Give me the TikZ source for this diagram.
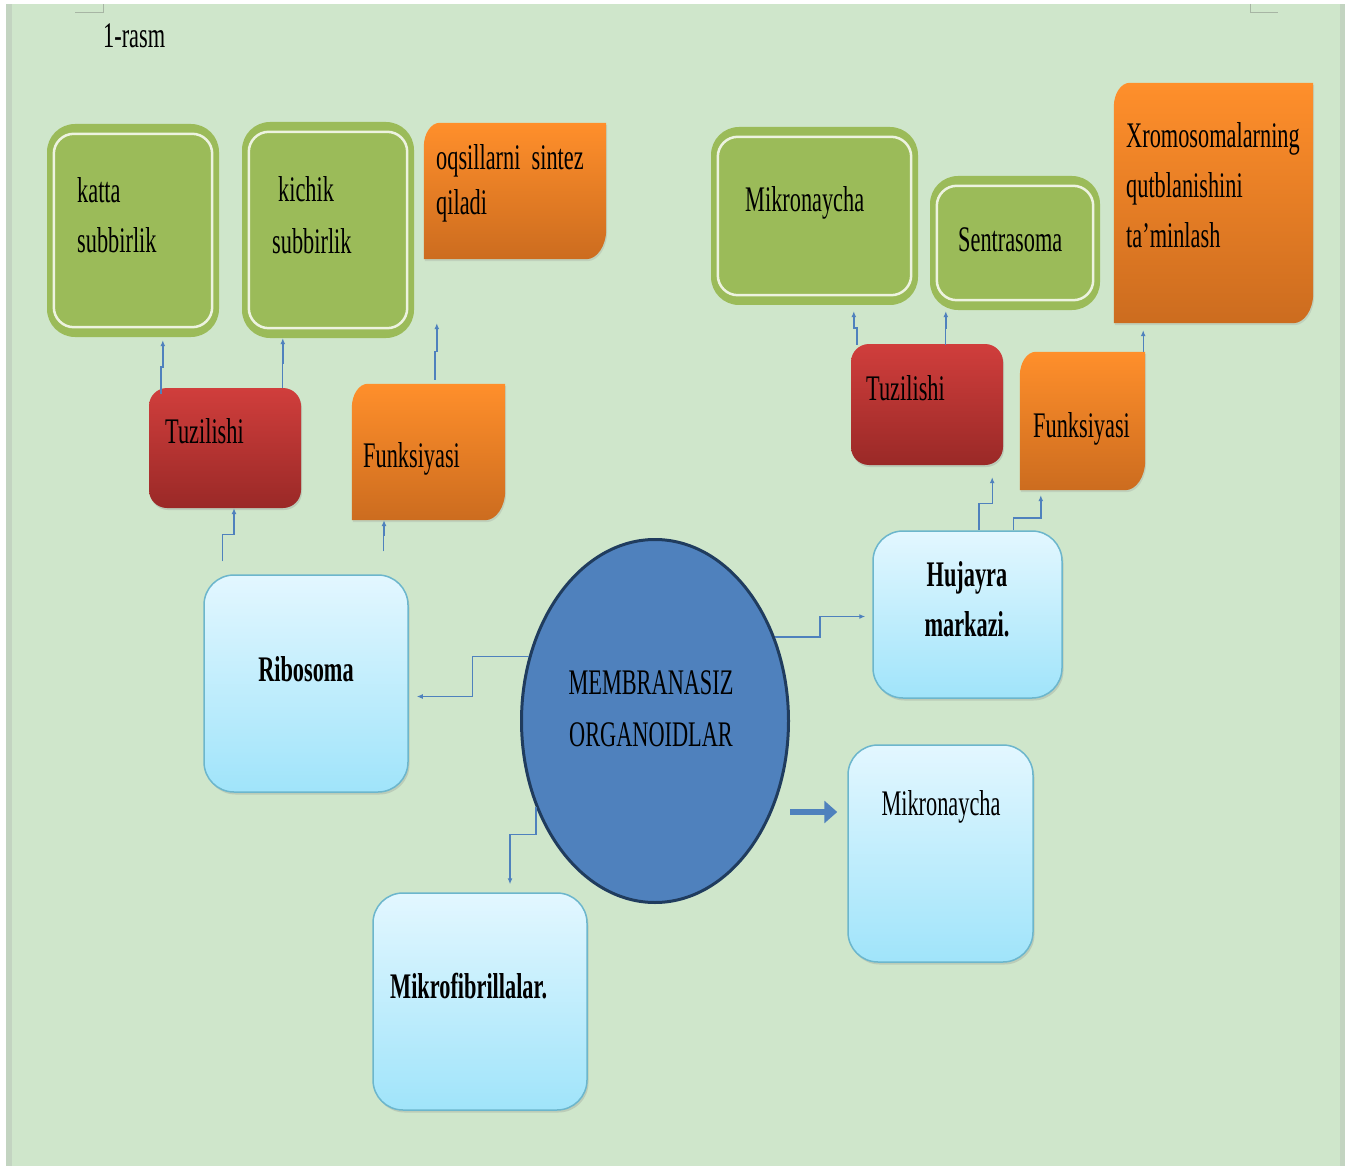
\documentclass[tikz,border=0pt]{standalone}
\usepackage{fontspec}
\setmainfont{Liberation Serif}[FakeStretch=0.62]
\usetikzlibrary{arrows.meta,positioning,calc,shapes.geometric,shadows}
\definecolor{pagebg}{HTML}{CFE6CB}
\definecolor{pageedge}{HTML}{C3D4C1}
\definecolor{cropmark}{HTML}{A7B5A4}
\definecolor{leaf}{HTML}{9BBB59}
\definecolor{leafline}{HTML}{EDF3E0}
\definecolor{orangetop}{HTML}{FF8F2B}
\definecolor{orangebot}{HTML}{CC6C1F}
\definecolor{redtop}{HTML}{D03E3C}
\definecolor{redbot}{HTML}{9A2927}
\definecolor{skytop}{HTML}{E3F7FF}
\definecolor{skybot}{HTML}{A0E4FA}
\definecolor{skyline}{HTML}{6CB6CC}
\definecolor{core}{HTML}{4F81BD}
\definecolor{coreline}{HTML}{203C5E}

\pgfdeclarelayer{page}
\pgfdeclarelayer{back}
\pgfsetlayers{page,back,main}

\tikzset{
  lbl/.style={font=\fontsize{36}{50}\selectfont, inner sep=0pt, anchor=base west, align=left},
  lblb/.style={lbl, font=\fontsize{36}{50}\selectfont\bfseries},
  leafbox/.style={fill=leaf, rounded corners=28pt, inner sep=0pt},
  leafring/.style={draw=leafline, line width=2.5pt, rounded corners=20pt},
  redbox/.style={top color=redtop, bottom color=redbot, rounded corners=18pt, inner sep=0pt,
    drop shadow={opacity=0.25, shadow xshift=1pt, shadow yshift=-2pt}},
  snipbox/.style={inner sep=0pt},
  skybox/.style={top color=skytop, bottom color=skybot, draw=skyline, line width=1.5pt,
    rounded corners=30pt, inner sep=0pt,
    drop shadow={opacity=0.25, shadow xshift=1.5pt, shadow yshift=-2.5pt}},
  corebubble/.style={ellipse, fill=core, draw=coreline, line width=3pt, inner sep=0pt},
  link/.style={draw=core, line width=1.4pt, -{Latex[length=6pt, width=5pt]}},
  bigarrow/.style={draw=core, line width=6pt, -{Triangle[length=13pt, width=22pt]}},
  vstep/.style={to path={|- ($(\tikztostart)!#1!(\tikztotarget)$) -| (\tikztotarget)}},
  vstep/.default=0.5,
  hstep/.style={to path={-| ($(\tikztostart)!#1!(\tikztotarget)$) |- (\tikztotarget)}},
  hstep/.default=0.5
}

\begin{document}
\begin{tikzpicture}[x=1pt, y=-1pt]
  % page
  \begin{pgfonlayer}{page}
    \fill[white] (0,0) rectangle (1349,1166);
    \fill[pagebg] (6,4) rectangle (1345,1166);
    \fill[pageedge] (6,4) rectangle (12,1166);
    \fill[pageedge] (1340,4) rectangle (1345,1166);
    \draw[cropmark, line width=1pt] (75,13) -- (103,13) -- (103,4);
    \draw[cropmark, line width=1pt] (1250,4) -- (1250,13) -- (1278,13);
  \end{pgfonlayer}
  \useasboundingbox (0,0) rectangle (1349,1166);

  \node[lbl] (fig) at (103,48) {1-rasm};

  % Ribosoma branch
  \node[leafbox, minimum width=172pt, minimum height=213pt] (katta) at (133,230.5) {};
  \node[leafbox, minimum width=172pt, minimum height=216pt] (kichik) at (328,230) {};
  \node[snipbox, minimum width=182pt, minimum height=136pt] (oqsil) at (515,191) {};
  \node[redbox, minimum width=152pt, minimum height=120pt] (tuzL) at (225,448) {};
  \node[snipbox, minimum width=153pt, minimum height=136pt] (funkL) at (428.5,452) {};
  \node[skybox, minimum width=204pt, minimum height=217pt] (ribo) at (306,683.5) {};

  % centre and lower boxes
  \node[corebubble, minimum width=267pt, minimum height=363pt] (core) at (655,721) {};
  \node[skybox, minimum width=214pt, minimum height=217pt] (mfib) at (480,1001.5) {};
  \node[skybox, minimum width=185pt, minimum height=217pt] (mikB) at (940.5,853.5) {};

  % Hujayra markazi branch
  \node[skybox, minimum width=189pt, minimum height=167pt] (huj) at (967.5,614.5) {};
  \node[leafbox, minimum width=207pt, minimum height=178pt] (mikA) at (814.5,216) {};
  \node[leafbox, minimum width=170pt, minimum height=134pt] (sentr) at (1015,243) {};
  \node[snipbox, minimum width=199pt, minimum height=240pt] (xromo) at (1213.5,203) {};
  \node[redbox, minimum width=152pt, minimum height=121pt] (tuzR) at (927,404.5) {};
  \node[snipbox, minimum width=125pt, minimum height=138pt] (funkR) at (1082.5,421) {};

  % inner rings and orange fills
  \foreach \b in {katta,kichik,mikA,sentr}
    \draw[leafring] ([shift={(7,10)}]\b.north west) rectangle ([shift={(-7,-10)}]\b.south east);
  \begin{pgfonlayer}{back}
    \foreach \b in {oqsil,funkL,xromo,funkR}
      \shade[top color=orangetop, bottom color=orangebot,
             drop shadow={opacity=0.2, shadow xshift=1pt, shadow yshift=-2pt}]
        (\b.south west) -- ([yshift=-24pt]\b.north west)
        arc[start angle=180, end angle=90, x radius=16pt, y radius=24pt]
        -- (\b.north east) -- ([yshift=30pt]\b.south east)
        arc[start angle=0, end angle=-90, x radius=20pt, y radius=30pt] -- cycle;
  \end{pgfonlayer}

  % texts (base = last line)
  \node[lbl] (kattaT) at (77,253) {katta\\subbirlik};
  \node[lbl] (kichikT) at (272,254) {\hspace*{6pt}kichik\\[2pt]subbirlik};
  \node[lbl] (oqsilT) at (436,215) {oqsillarni~~sintez\\[-5pt]qiladi};
  \node[lbl] (tuzLT) at (165,443) {Tuzilishi};
  \node[lbl] (funkLT) at (363,467) {Funksiyasi};
  \node[lblb, anchor=base] (riboT) at (306,681) {Ribosoma};
  \node[lbl, anchor=base, align=center] (coreT) at (651,746) {MEMBRANASIZ\\[2pt]ORGANOIDLAR};
  \node[lblb] (mfibT) at (390,998) {Mikrofibrillalar.};
  \node[lbl, anchor=base] (mikBT) at (941,815) {Mikronaycha};
  \node[lblb, anchor=base, align=center] (hujT) at (967,636) {Hujayra\\markazi.};
  \node[lbl] (mikAT) at (745,212) {Mikronaycha};
  \node[lbl] (sentrT) at (958,252) {Sentrasoma};
  \node[lbl] (xromoT) at (1126,248) {Xromosomalarning\\qutblanishini\\ta’minlash};
  \node[lbl] (tuzRT) at (866,400) {Tuzilishi};
  \node[lbl] (funkRT) at (1033,437) {Funksiyasi};

  % connectors
  \draw[link] (core.153) to[hstep] ([shift={(8,13)}]ribo.east);
  \draw[link] (core.216) to[vstep=.35] ([shift={(30,-8)}]mfib.north);
  \draw[link] (core.35) to[hstep] ([shift={(-7,2)}]huj.west);
  \coordinate (thk) at (790,812);
  \draw[bigarrow, shorten >=10pt] (thk) -- (thk -| mikB.west);

  \draw[link] ([shift={(19,-13)}]ribo.north west) to[vstep] ([xshift=9pt]tuzL.south);
  \draw[link] ([shift={(-25,-23)}]ribo.north east) to[vstep] ([xshift=-44.5pt]funkL.south);
  \draw[link] ([shift={(12,6)}]tuzL.north west) to[vstep] ([shift={(116,3)}]katta.south west);
  \draw[link] ([xshift=-19pt]tuzL.north east) to[vstep] ([xshift=41pt]kichik.south west);
  \draw[link] ([shift={(83,-4)}]funkL.north west) to[vstep] ([shift={(13,64)}]oqsil.south west);

  \draw[link] ([xshift=11.5pt]huj.north) to[vstep] ([shift={(-11,12)}]tuzR.south east);
  \draw[link] ([xshift=-49pt]huj.north east) to[vstep=.35] ([shift={(21,5)}]funkR.south west);
  \draw[link] ([shift={(6,1)}]tuzR.north west) to[vstep] ([shift={(143,6)}]mikA.south west);
  \draw[link] ([shift={(-58,1)}]tuzR.north east) to[vstep] ([shift={(16,1)}]sentr.south west);
  \draw[link] ([xshift=-2pt]funkR.north east) to[vstep] ([shift={(-170,7)}]xromo.south east);
\end{tikzpicture}
\end{document}
